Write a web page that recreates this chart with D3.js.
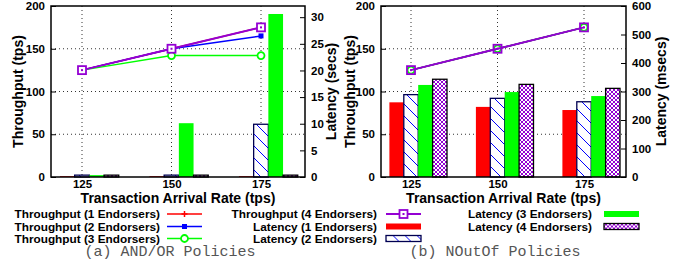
<!DOCTYPE html>
<meta charset="utf-8">
<title>Endorsement policies</title>
<style>
  body { margin: 0; background: #fff; }
  text { font-family: "Liberation Sans", Arial, sans-serif; font-weight: bold; fill: #000; }
  .cap { font-family: "Liberation Mono", "DejaVu Sans Mono", monospace; font-weight: normal; fill: #555; }
</style>
<body>
<script src="https://cdn.jsdelivr.net/npm/d3@7"></script>
<script>

var categories = ["125", "150", "175"];

// (a) AND/OR policies
var tpA1 = [125, 150, 175];
var tpA2 = [125, 150, 165];
var tpA3 = [125, 142, 142];
var tpA4 = [125, 150, 175];
var latA1 = [0.15, 0.15, 0.15];   // secs
var latA2 = [0.35, 0.35, 9.9];
var latA3 = [0.35, 10.1, 30.6];
var latA4 = [0.35, 0.35, 0.35];

// (b) NOutOf policies
var tpB1 = [125, 150, 175];
var tpB2 = [125, 150, 175];
var tpB3 = [125, 150, 175];
var tpB4 = [125, 150, 175];
var latB1 = [262, 246, 235];      // msecs
var latB2 = [289, 276, 264];
var latB3 = [323, 298, 284];
var latB4 = [343, 325, 311];

var leftTicks = [0, 50, 100, 150, 200];
var rightTicksA = [0, 5, 10, 15, 20, 25, 30];
var rightTicksB = [0, 100, 200, 300, 400, 500, 600];

var RED = "#ff0000", BLUE = "#0000ff", GREEN = "#00ff00", PURPLE = "#9400d3";

var width = 684, height = 263;
var svg = d3.select("body").append("svg")
    .attr("width", width)
    .attr("height", height);

// fill patterns
var defs = svg.append("defs");
var hatch = defs.append("pattern")
    .attr("id", "hatch")
    .attr("patternUnits", "userSpaceOnUse")
    .attr("width", 12).attr("height", 12);
hatch.append("rect").attr("width", 12).attr("height", 12).attr("fill", "#fff");
hatch.append("path").attr("d", "M-3,-3L15,15M-3,9L3,15M9,-3L15,3")
    .attr("stroke", BLUE).attr("stroke-width", 1);

var cross = defs.append("pattern")
    .attr("id", "cross")
    .attr("patternUnits", "userSpaceOnUse")
    .attr("width", 4).attr("height", 4);
cross.append("rect").attr("width", 4).attr("height", 4).attr("fill", "#fff");
cross.append("path").attr("d", "M0,0L4,4M4,0L0,4")
    .attr("stroke", PURPLE).attr("stroke-width", 1);

var barStyles = [
  { fill: RED, stroke: "none" },
  { fill: "url(#hatch)", stroke: "#000050" },
  { fill: GREEN, stroke: "none" },
  { fill: "url(#cross)", stroke: "#000" }
];

function drawPanel(p) {
  var g = svg.append("g");
  var x = d3.scalePoint().domain(categories).range([p.px0, p.px1]);
  var yL = d3.scaleLinear().domain([0, 200]).range([p.bottom, p.top]);
  var yR = d3.scaleLinear().domain(p.rightDomain).range([p.bottom, p.top]);

  // grid (behind everything)
  g.append("g").selectAll("line").data([50, 100, 150]).join("line")
      .attr("x1", p.left).attr("x2", p.right)
      .attr("y1", d => yL(d)).attr("y2", d => yL(d))
      .attr("stroke", "#333").attr("stroke-width", 1).attr("stroke-dasharray", "1,3");
  g.append("g").selectAll("line").data(categories).join("line")
      .attr("x1", d => x(d)).attr("x2", d => x(d))
      .attr("y1", p.top).attr("y2", p.bottom)
      .attr("stroke", "#333").attr("stroke-width", 1).attr("stroke-dasharray", "1,3");

  // latency bars, the second bar sits on the category point
  p.lat.forEach(function(series, s) {
    g.append("g").selectAll("rect").data(series).join("rect")
        .attr("x", (d, i) => x(categories[i]) + (s - 1.5) * p.barW)
        .attr("y", d => yR(d))
        .attr("width", p.barW)
        .attr("height", d => p.bottom - yR(d))
        .attr("fill", barStyles[s].fill)
        .attr("stroke", barStyles[s].stroke)
        .attr("stroke-width", 1.3);
  });

  // axes
  var axL = g.append("g").attr("transform", "translate(" + p.left + ",0)")
      .call(d3.axisLeft(yL).tickValues(leftTicks).tickSize(-5).tickPadding(6));
  var axR = g.append("g").attr("transform", "translate(" + p.right + ",0)")
      .call(d3.axisRight(yR).tickValues(p.rightTicks).tickSize(-5).tickPadding(6));
  var axB = g.append("g").attr("transform", "translate(0," + p.bottom + ")")
      .call(d3.axisBottom(x).tickSize(0).tickPadding(3));
  [axL, axR, axB].forEach(function(a) {
    a.select(".domain").remove();
    a.selectAll("line").attr("stroke", "#000").attr("stroke-width", 1);
    a.selectAll("text").attr("font-size", 11.5).attr("font-family", null).attr("fill", "#000");
  });

  g.append("rect")
      .attr("x", p.left).attr("y", p.top)
      .attr("width", p.right - p.left).attr("height", p.bottom - p.top)
      .attr("fill", "none").attr("stroke", "#000").attr("stroke-width", 1.5);

  // throughput lines
  var colors = [RED, BLUE, GREEN, PURPLE];
  p.tp.forEach(function(series, s) {
    var line = d3.line().x((d, i) => x(categories[i])).y(d => yL(d));
    g.append("path").datum(series)
        .attr("d", line)
        .attr("fill", "none")
        .attr("stroke", colors[s])
        .attr("stroke-width", s == 3 ? 2 : 1.5);
    var pts = g.append("g").selectAll("g").data(series).join("g")
        .attr("transform", (d, i) => "translate(" + x(categories[i]) + "," + yL(d) + ")");
    marker(pts, s, p.squareFill);
  });

  // titles
  g.append("text")
      .attr("transform", "translate(" + p.ltx + "," + ((p.top + p.bottom) / 2) + ") rotate(-90)")
      .attr("text-anchor", "middle").attr("dy", "0.35em")
      .attr("font-size", 14).text("Throughput (tps)");
  g.append("text")
      .attr("transform", "translate(" + p.rtx + "," + ((p.top + p.bottom) / 2) + ") rotate(-90)")
      .attr("text-anchor", "middle").attr("dy", "0.35em")
      .attr("font-size", 14).text(p.rightTitle);
  g.append("text")
      .attr("x", (p.left + p.right) / 2).attr("y", 203)
      .attr("text-anchor", "middle")
      .attr("font-size", 14).text("Transaction Arrival Rate (tps)");
  g.append("text").attr("class", "cap")
      .attr("x", p.capX).attr("y", 256)
      .attr("text-anchor", "middle")
      .attr("font-size", 15).text(p.caption);
}

function marker(sel, s, squareFill) {
  if (s == 0) {
    sel.append("path").attr("d", "M-3,0H3M0,-3V3")
        .attr("stroke", RED).attr("stroke-width", 1.5);
  } else if (s == 1) {
    sel.append("rect").attr("x", -2.5).attr("y", -2.5).attr("width", 5).attr("height", 5)
        .attr("fill", BLUE);
  } else if (s == 2) {
    sel.append("circle").attr("r", 3.5)
        .attr("fill", "#fff").attr("stroke", GREEN).attr("stroke-width", 1.8);
  } else {
    sel.append("rect").attr("x", -4).attr("y", -4).attr("width", 8).attr("height", 8)
        .attr("fill", squareFill).attr("stroke", PURPLE).attr("stroke-width", 1.8);
    sel.append("rect").attr("x", -1).attr("y", -1).attr("width", 2).attr("height", 2)
        .attr("fill", PURPLE);
  }
}

drawPanel({
  left: 51, right: 305, top: 6, bottom: 177,
  px0: 82, px1: 261, barW: 14.7,
  rightDomain: [0, 32.1], rightTicks: rightTicksA,
  tp: [tpA1, tpA2, tpA3, tpA4], lat: [latA1, latA2, latA3, latA4],
  squareFill: "#fff",
  ltx: 18, rtx: 331, rightTitle: "Latency (secs)",
  capX: 170, caption: "(a) AND/OR Policies"
});

drawPanel({
  left: 381, right: 626, top: 6, bottom: 177,
  px0: 411, px1: 584, barW: 14.4,
  rightDomain: [0, 600], rightTicks: rightTicksB,
  tp: [tpB1, tpB2, tpB3, tpB4], lat: [latB1, latB2, latB3, latB4],
  squareFill: "none",
  ltx: 350, rtx: 661, rightTitle: "Latency (msecs)",
  capX: 495, caption: "(b) NOutOf Policies"
});

// legend
var legendRows = [214, 226.5, 238.5];
var legendItems = [
  { label: "Throughput (1 Endorsers)", kind: "line", s: 0, col: 0, row: 0 },
  { label: "Throughput (2 Endorsers)", kind: "line", s: 1, col: 0, row: 1 },
  { label: "Throughput (3 Endorsers)", kind: "line", s: 2, col: 0, row: 2 },
  { label: "Throughput (4 Endorsers)", kind: "line", s: 3, col: 1, row: 0 },
  { label: "Latency (1 Endorsers)", kind: "bar", s: 0, col: 1, row: 1 },
  { label: "Latency (2 Endorsers)", kind: "bar", s: 1, col: 1, row: 2 },
  { label: "Latency (3 Endorsers)", kind: "bar", s: 2, col: 2, row: 0 },
  { label: "Latency (4 Endorsers)", kind: "bar", s: 3, col: 2, row: 1 }
];
var colTextEnd = [160, 377, 592];
var colSample = [[167, 202], [386, 421], [604, 639]];
var lineColors = [RED, BLUE, GREEN, PURPLE];

var leg = svg.append("g").selectAll("g").data(legendItems).join("g")
    .attr("transform", d => "translate(0," + legendRows[d.row] + ")");
leg.append("text")
    .attr("x", d => colTextEnd[d.col])
    .attr("dy", "0.36em")
    .attr("text-anchor", "end")
    .attr("font-size", 11.8)
    .text(d => d.label);
leg.each(function(d) {
  var el = d3.select(this);
  var a = colSample[d.col][0], b = colSample[d.col][1];
  if (d.kind == "line") {
    el.append("line").attr("x1", a).attr("x2", b)
        .attr("stroke", lineColors[d.s]).attr("stroke-width", d.s == 3 ? 2 : 1.5);
    var m = el.append("g").attr("transform", "translate(" + ((a + b) / 2) + ",0)");
    marker(m, d.s, "#fff");
  } else {
    el.append("rect").attr("x", a).attr("y", -3).attr("width", b - a).attr("height", 6)
        .attr("fill", barStyles[d.s].fill)
        .attr("stroke", barStyles[d.s].stroke).attr("stroke-width", 1.3);
  }
});

</script>
</body>
